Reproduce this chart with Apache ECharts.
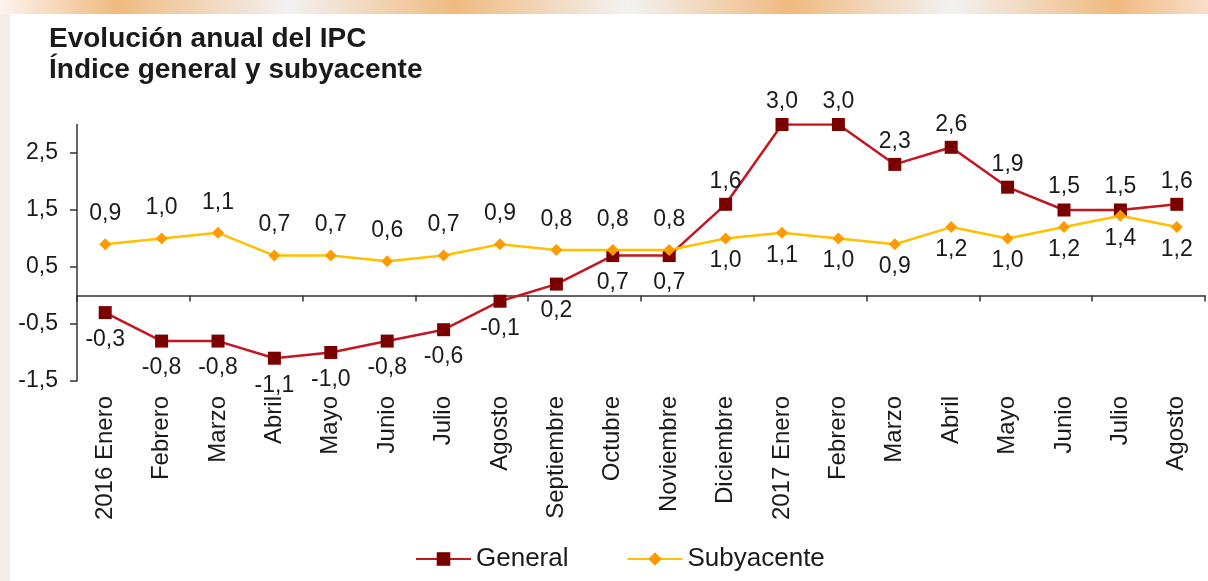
<!DOCTYPE html>
<html><head><meta charset="utf-8">
<script src="https://cdn.jsdelivr.net/npm/echarts@6/dist/echarts.min.js"></script>
<style>html,body{margin:0;padding:0;background:#fff}#c{width:1208px;height:581px}</style>
</head><body><div id="c"></div>
<script>
const categories = ['2016 Enero','Febrero','Marzo','Abril','Mayo','Junio','Julio','Agosto','Septiembre','Octubre','Noviembre','Diciembre','2017 Enero','Febrero','Marzo','Abril','Mayo','Junio','Julio','Agosto'];
const general = [-0.3,-0.8,-0.8,-1.1,-1.0,-0.8,-0.6,-0.1,0.2,0.7,0.7,1.6,3.0,3.0,2.3,2.6,1.9,1.5,1.5,1.6];
const subyacente = [0.9,1.0,1.1,0.7,0.7,0.6,0.7,0.9,0.8,0.8,0.8,1.0,1.1,1.0,0.9,1.2,1.0,1.2,1.4,1.2];
const yTicks = [-1.5,-0.5,0.5,1.5,2.5];
const seriesNames = ['General','Subyacente'];

const FONT = '"Liberation Sans", Arial, sans-serif';
const TXT = '#1a1a1a';
const fmt = v => Number(v).toFixed(1).replace('.', ',');

const chart = echarts.init(document.getElementById('c'), null, {renderer: 'canvas'});

const genData = general.map((v, i) => ({
  value: v,
  label: i <= 10 ? {position: 'bottom', distance: 9} : {position: 'top', distance: 5}
}));
const subData = subyacente.map((v, i) => ({
  value: v,
  label: i <= 10 ? {position: 'top', distance: 13} : {position: 'bottom', distance: 5}
}));

const labelStyle = {
  show: true,
  formatter: p => fmt(p.value),
  fontFamily: FONT,
  fontSize: 23,
  color: TXT
};

chart.setOption({
  animation: false,
  backgroundColor: '#ffffff',
  graphic: [
    {type: 'rect', silent: true, z: 0, shape: {x: 0, y: 0, width: 1208, height: 14},
     style: {fill: new echarts.graphic.LinearGradient(0, 0, 1, 0, [
       {offset: 0, color: '#fdf4ee'},
       {offset: 0.096, color: '#f0ba80'},
       {offset: 0.24, color: '#f3f2f1'},
       {offset: 0.377, color: '#f0ba80'},
       {offset: 0.52, color: '#f3f2f1'},
       {offset: 0.653, color: '#f0ba80'},
       {offset: 0.787, color: '#f3f2f1'},
       {offset: 0.924, color: '#f0ba80'},
       {offset: 1, color: '#f9dfca'}
     ])}},
    {type: 'rect', silent: true, z: 0, shape: {x: 0, y: 14, width: 10, height: 567},
     style: {fill: '#f5eee8'}}
  ],
  title: {
    text: 'Evolución anual del IPC\nÍndice general y subyacente',
    left: 49, top: 24, padding: 0,
    textStyle: {fontFamily: FONT, fontSize: 28, fontWeight: 'bold', color: TXT, lineHeight: 31}
  },
  legend: {
    data: seriesNames,
    left: 415, top: 546, padding: 0,
    itemWidth: 55, itemHeight: 17, itemGap: 58,
    textStyle: {fontFamily: FONT, fontSize: 26, color: TXT}
  },
  grid: {left: 77, right: 3, top: 124.5, bottom: 200, containLabel: false},
  xAxis: [
    {
      type: 'category', data: categories, position: 'bottom', boundaryGap: true,
      axisLine: {show: true, onZero: true, lineStyle: {color: '#333', width: 1.5}},
      axisTick: {show: true, length: 6, lineStyle: {color: '#333', width: 1.5}},
      axisLabel: {show: false},
      splitLine: {show: false}
    },
    {
      type: 'category', data: categories, position: 'bottom', boundaryGap: true,
      axisLine: {show: false, onZero: false},
      axisTick: {show: false},
      axisLabel: {show: true, rotate: 90, interval: 0, margin: 15,
        fontFamily: FONT, fontSize: 24, color: TXT},
      splitLine: {show: false}
    }
  ],
  yAxis: {
    type: 'value', min: -1.5, max: 3, interval: 1,
    axisLine: {show: true, lineStyle: {color: '#333', width: 1.5}},
    axisTick: {show: true, length: 7, customValues: yTicks, lineStyle: {color: '#333', width: 1.5}},
    axisLabel: {show: true, customValues: yTicks, margin: 19, formatter: v => fmt(v),
      fontFamily: FONT, fontSize: 23, color: TXT},
    splitLine: {show: false}
  },
  series: [
    {
      name: seriesNames[0], type: 'line', xAxisIndex: 0, data: genData,
      symbol: 'rect', symbolSize: 13, showAllSymbol: true,
      lineStyle: {color: '#c3161f', width: 2.5},
      itemStyle: {color: '#7a0000', borderWidth: 0},
      label: labelStyle, z: 2
    },
    {
      name: seriesNames[1], type: 'line', xAxisIndex: 0, data: subData,
      symbol: 'diamond', symbolSize: 12, showAllSymbol: true,
      lineStyle: {color: '#ffc000', width: 2.5},
      itemStyle: {color: '#ff9a00', borderWidth: 0},
      label: labelStyle, z: 3
    }
  ]
});
</script>
</body></html>
